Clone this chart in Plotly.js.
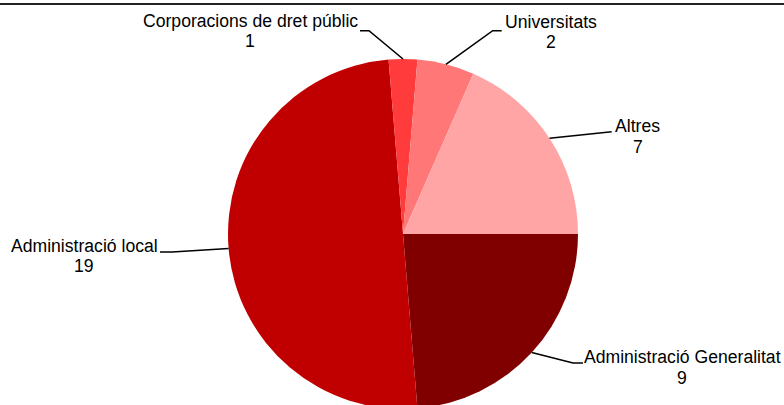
<!DOCTYPE html>
<html>
<head>
<meta charset="utf-8">
<script src="https://cdn.plot.ly/plotly-3.0.1.min.js"></script>
<style>
html, body { margin: 0; padding: 0; overflow: hidden; background: #fff; }
#chart { width: 784px; height: 420px; }
</style>
</head>
<body>
<div id="chart"></div>
<script>
// ---- data ----
const categories = ["Administració Generalitat", "Administració local", "Corporacions de dret públic", "Universitats", "Altres"];
const values = [9, 19, 1, 2, 7];
const colors = ["#800000", "#C00000", "#FF3B3B", "#FF7777", "#FFA5A5"];

// ---- layout constants (pixels) ----
const W = 784, H = 420;
const CX = 403, CY = 234, R = 175;
// label placement: text centre x, name baseline y, leader elbow and end points
const labelLayout = [
  { tx: 682, base: 363.3, elbow: [573, 363], end: [583, 363] },
  { tx: 84,  base: 251.7, elbow: [172, 252], end: [160, 252] },
  { tx: 250, base: 27,    elbow: [369, 30.7], end: [360, 30.7] },
  { tx: 550.5, base: 28,  elbow: [492.7, 30.7], end: [501.7, 30.7] },
  { tx: 637.5, base: 132.3, elbow: [611.7, 131.7], end: [611.7, 131.7] }
];
const LINE_GAP = 20.5;
const FONT_SIZE = 17.6;

const px = x => x / W;
const py = y => 1 - y / H;

const trace = {
  type: "pie",
  labels: categories,
  values: values,
  sort: false,
  direction: "clockwise",
  rotation: 90,
  marker: { colors: colors, line: { width: 0 } },
  textinfo: "none",
  hoverinfo: "label+value",
  showlegend: false,
  domain: { x: [px(CX - R), px(CX + R)], y: [py(CY + R), py(CY - R)] }
};

// leader lines from slice mid-angle (derived from the data)
const total = values.reduce((a, b) => a + b, 0);
let cum = 0;
const shapes = [{
  type: "line", xref: "paper", yref: "paper",
  x0: 0, x1: 1, y0: py(4), y1: py(4),
  line: { color: "#222", width: 2 }
}];
const annotations = [];
values.forEach((v, i) => {
  const mid = (cum + v / 2) / total * 2 * Math.PI; // clockwise from 3 o'clock
  cum += v;
  const sx = CX + R * Math.cos(mid);
  const sy = CY + R * Math.sin(mid);
  const L = labelLayout[i];
  shapes.push({
    type: "path", xref: "paper", yref: "paper",
    path: `M ${px(sx)} ${py(sy)} L ${px(L.elbow[0])} ${py(L.elbow[1])} L ${px(L.end[0])} ${py(L.end[1])}`,
    line: { color: "#000", width: 1.6 }
  });
  const font = { family: "Liberation Sans, Arial, sans-serif", size: FONT_SIZE, color: "#000" };
  annotations.push({
    xref: "paper", yref: "paper", x: px(L.tx), y: py(L.base - 6),
    xanchor: "center", yanchor: "middle", showarrow: false,
    text: categories[i], font: font
  });
  annotations.push({
    xref: "paper", yref: "paper", x: px(L.tx), y: py(L.base + LINE_GAP - 6),
    xanchor: "center", yanchor: "middle", showarrow: false,
    text: String(v), font: font
  });
});

const layout = {
  width: W, height: H,
  margin: { l: 0, r: 0, t: 0, b: 0 },
  paper_bgcolor: "#fff",
  shapes: shapes,
  annotations: annotations
};

Plotly.newPlot("chart", [trace], layout, { staticPlot: true, displayModeBar: false });
</script>
</body>
</html>
